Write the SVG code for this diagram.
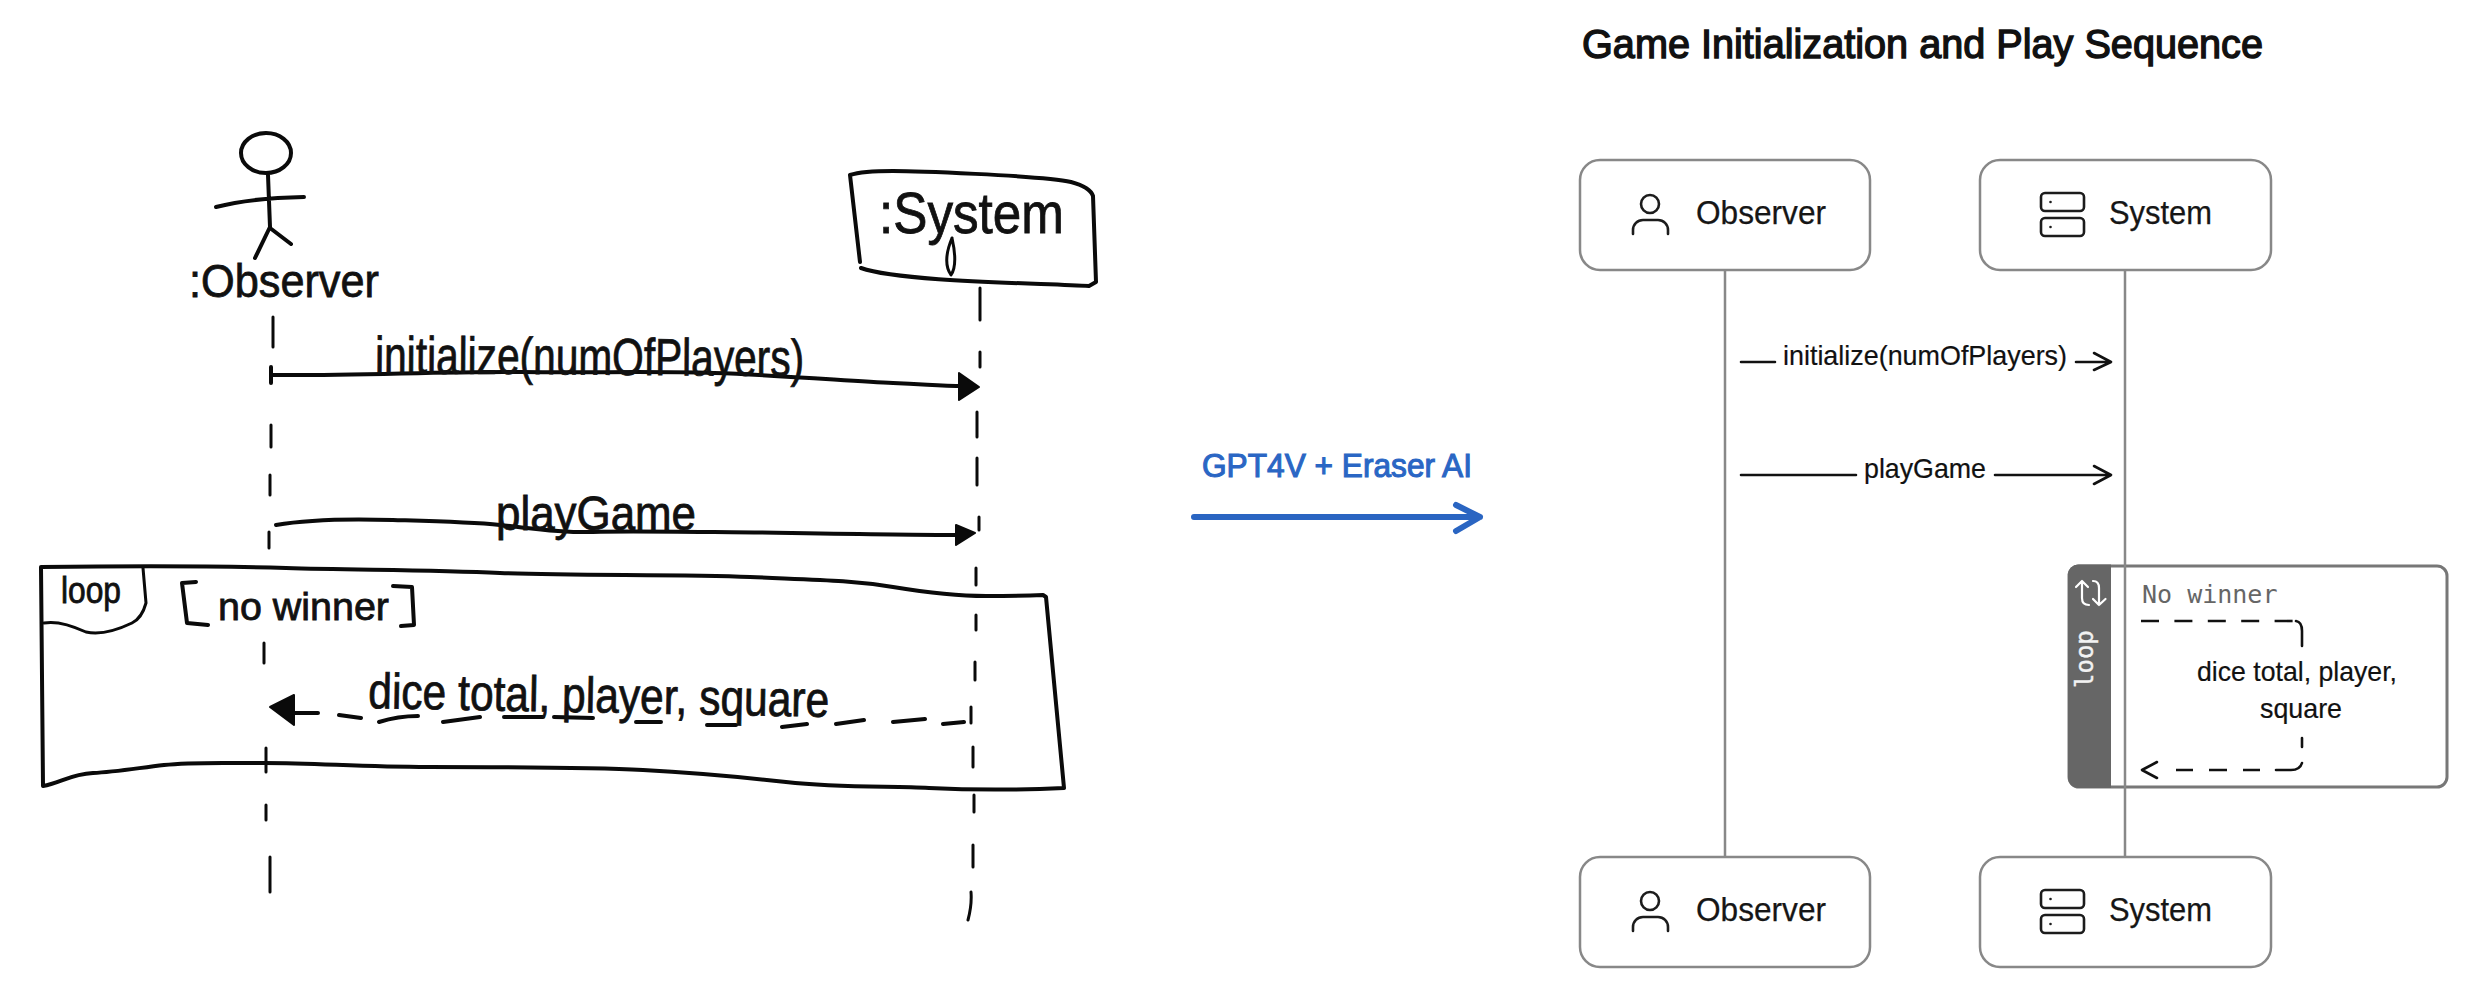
<svg xmlns="http://www.w3.org/2000/svg" width="2467" height="988" viewBox="0 0 2467 988">
<style>
text{font-family:"Liberation Sans",Arial,sans-serif;fill:#111}
.ink{fill:none;stroke:#0a0a0a;stroke-width:4;stroke-linecap:round;stroke-linejoin:round}
.thin{stroke-width:3}
.hand{stroke:#111;stroke-width:.8}
.box{fill:#fff;stroke:#888;stroke-width:2.5}
.life{stroke:#888;stroke-width:2.5;fill:none}
.ico{fill:none;stroke:#1c1c1c;stroke-width:2.6;stroke-linecap:round;stroke-linejoin:round}
.lbl{font-size:33px;fill:#161616;stroke:#161616;stroke-width:.25}
.msg{font-size:28px;fill:#111;stroke:#111;stroke-width:.2}
.conn{fill:none;stroke:#111;stroke-width:2.6;stroke-linecap:round;stroke-linejoin:round}
.dash{stroke-dasharray:18 15.4;stroke-linecap:butt}
.mono{font-family:"DejaVu Sans Mono","Liberation Mono",monospace}
</style>
<defs>
<g id="person"><ellipse cx="1650" cy="204" rx="9" ry="9" class="ico"/><path class="ico" d="M1633 234v-4a10 10 0 0 1 10-10h15a10 10 0 0 1 10 10v4"/></g>
<g id="server"><rect x="2041" y="193" width="43" height="18" rx="4" class="ico"/><rect x="2041" y="218" width="43" height="18" rx="4" class="ico"/><circle cx="2050.5" cy="202" r="1.3" fill="#1c1c1c"/><circle cx="2050.5" cy="227" r="1.3" fill="#1c1c1c"/></g>
</defs>
<rect width="2467" height="988" fill="#fff"/>

<g id="sketch-connectors">
<path class="ink thin" d="M273 317V347M271 425V447M270 475V495M269 532V548M264 643V663M266 748V772M266 805V820M270 857V892"/>
<path class="ink thin" d="M980 288V320M980 352V367M977 412V437M977 458V485M979 517V530M976 568V585M976 615V630M975 662V680M971 707V723M973 747V767M974 795V812M973 845V867M971 892Q972 905 968 920"/>
<path class="ink" d="M271 367V383M271 375C350 376 450 371 521 372S650 371 714 373S850 381 893 383S940 386 964 386"/>
<path d="M959 373L979 387L959 400Z" fill="#0a0a0a" stroke="#0a0a0a" stroke-width="2" stroke-linejoin="round"/>
<path class="ink" d="M276 525C310 519 360 519 393 520S470 522 500 525S560 533 593 532S680 532 714 532S880 535 957 535"/>
<path d="M956 525L975 533L956 545Z" fill="#0a0a0a" stroke="#0a0a0a" stroke-width="2" stroke-linejoin="round"/>
<path d="M270 707L294 695L294 725Z" fill="#0a0a0a" stroke="#0a0a0a" stroke-width="2" stroke-linejoin="round"/>
<path class="ink" d="M294 713H318M339 715L361 718M379 722Q398 716 418 716M443 722L480 717M504 717H543M554 717L593 718M636 722H661M707 725H736M782 727L807 724M836 724L864 720M893 722L925 719M943 724L964 722"/>
</g>
<g id="sketch-observer">
<ellipse cx="266" cy="153" rx="25" ry="20" class="ink"/>
<path class="ink" d="M268 175Q269 200 270 227L255 258M270 228L291 244M216 207Q250 198 304 197"/>
<text class="hand" style="font-size:47px" x="189" y="297" textLength="190" lengthAdjust="spacingAndGlyphs">:Observer</text>
</g>
<g id="sketch-system">
<path class="ink" d="M850 175C862 171 880 171 893 171S1040 175 1071 182Q1090 187 1093 196L1096 282L1089 286C1040 283 900 282 861 268M850 175L860 262"/>
<text class="hand" style="font-size:57px" x="879" y="233" textLength="185" lengthAdjust="spacingAndGlyphs">:System</text>
<path class="ink thin" d="M952 238Q942 262 951 275Q958 265 952 238"/>
</g>
<g id="sketch-labels">
<text class="hand" style="font-size:52px" x="375" y="373" textLength="429" lengthAdjust="spacingAndGlyphs" transform="rotate(.4 375 373)">initialize(numOfPlayers)</text>
<text class="hand" style="font-size:48px" x="496" y="530" textLength="200" lengthAdjust="spacingAndGlyphs">playGame</text>
<text class="hand" style="font-size:50px" x="368" y="708" textLength="461" lengthAdjust="spacingAndGlyphs" transform="rotate(1.1 368 708)">dice total, player, square</text>
</g>
<g id="sketch-loop">
<path class="ink" d="M41 567C120 566 220 566 286 568S430 570 500 573S680 574 750 577S850 580 893 587S960 596 986 596Q1020 596 1043 595L1046 597L1064 788C1020 790 970 790 929 788S840 788 786 782S700 773 643 770S500 767 429 767S320 763 264 763S190 762 164 765S115 772 93 773S60 783 43 786Z"/>
<path class="ink thin" d="M143 568L146 603Q142 618 132 623Q105 636 86 632Q60 620 44 623"/>
<text class="hand" style="font-size:36px" x="61" y="603" textLength="60" lengthAdjust="spacingAndGlyphs">loop</text>
<path class="ink" d="M196 582L182 583L187 623L208 625M393 586L412 587L414 625L401 626"/>
<text class="hand" style="font-size:38px" x="218" y="620" textLength="171" lengthAdjust="spacingAndGlyphs">no winner</text>
</g>

<g id="transition">
<text x="1202" y="477" textLength="270" lengthAdjust="spacingAndGlyphs" style="font-size:33px;fill:#2a66c4;stroke:#2a66c4;stroke-width:1.1">GPT4V + Eraser AI</text>
<path d="M1194 517H1480M1456 505L1480 517L1456 531" fill="none" stroke="#2a65c2" stroke-width="6" stroke-linecap="round" stroke-linejoin="round"/>
</g>

<text id="title" x="1582" y="58" textLength="681" lengthAdjust="spacingAndGlyphs" style="font-size:41px;stroke:#111;stroke-width:1.4">Game Initialization and Play Sequence</text>

<g id="loop-frame">
<rect x="2069" y="566" width="378" height="221" rx="10" fill="#fff" stroke="#777" stroke-width="3"/>
<path d="M2111 564.500H2078a10 10 0 0 0-10 10V778a10 10 0 0 0 10 10H2111Z" fill="#666"/>
<path d="M2076 587L2082 581L2088 587M2082 581V598Q2082 605 2089 605M2093 581Q2099 581 2099 588V605M2093 599L2099 605L2105.500 599" fill="none" stroke="#fff" stroke-width="2.200" stroke-linecap="round" stroke-linejoin="round"/>
<text class="mono" transform="translate(2093 688) rotate(-90)" style="font-size:24px;fill:#f2f2f2;stroke:#f2f2f2;stroke-width:.4">loop</text>
<text class="mono" x="2142" y="603" style="font-size:25px;fill:#666">No winner</text>
</g>

<g id="connectors">
<path class="life" d="M1725 270V856M2125 270V856"/>
<path class="conn" d="M1741 362H1775M2076 362H2110M2094 353L2111 362L2094 370"/>
<path class="conn" d="M1741 475H1856M1995 475H2110M2094 466L2111 475L2094 484"/>
<path class="conn dash" d="M2141 621H2293"/>
<path class="conn" d="M2296 621Q2302 622 2302 631V646M2302 738V747M2302 763Q2300 770 2291 770H2276"/>
<path class="conn" stroke-linecap="butt" style="stroke-linecap:butt" d="M2260 770H2243M2227 770H2209M2193 770H2176"/>
<path class="conn" d="M2157 762L2142 770L2157 778"/>
</g>

<g id="observer-top">
<rect class="box" x="1580" y="160" width="290" height="110" rx="20"/>
<use href="#person"/>
<text class="lbl" x="1696" y="224" textLength="130" lengthAdjust="spacingAndGlyphs">Observer</text>
</g>
<g id="system-top">
<rect class="box" x="1980" y="160" width="291" height="110" rx="20"/>
<use href="#server"/>
<text class="lbl" x="2109" y="224" textLength="103" lengthAdjust="spacingAndGlyphs">System</text>
</g>
<g id="observer-bottom">
<rect class="box" x="1580" y="857" width="290" height="110" rx="20"/>
<use href="#person" y="697"/>
<text class="lbl" x="1696" y="921" textLength="130" lengthAdjust="spacingAndGlyphs">Observer</text>
</g>
<g id="system-bottom">
<rect class="box" x="1980" y="857" width="291" height="110" rx="20"/>
<use href="#server" y="697"/>
<text class="lbl" x="2109" y="921" textLength="103" lengthAdjust="spacingAndGlyphs">System</text>
</g>
<g id="messages">
<text class="msg" x="1783" y="365" textLength="284" lengthAdjust="spacingAndGlyphs">initialize(numOfPlayers)</text>
<text class="msg" x="1864" y="478" textLength="122" lengthAdjust="spacingAndGlyphs">playGame</text>
<text class="msg" x="2197" y="681" textLength="200" lengthAdjust="spacingAndGlyphs">dice total, player,</text>
<text class="msg" x="2260" y="718" textLength="82" lengthAdjust="spacingAndGlyphs">square</text>
</g>
</svg>
